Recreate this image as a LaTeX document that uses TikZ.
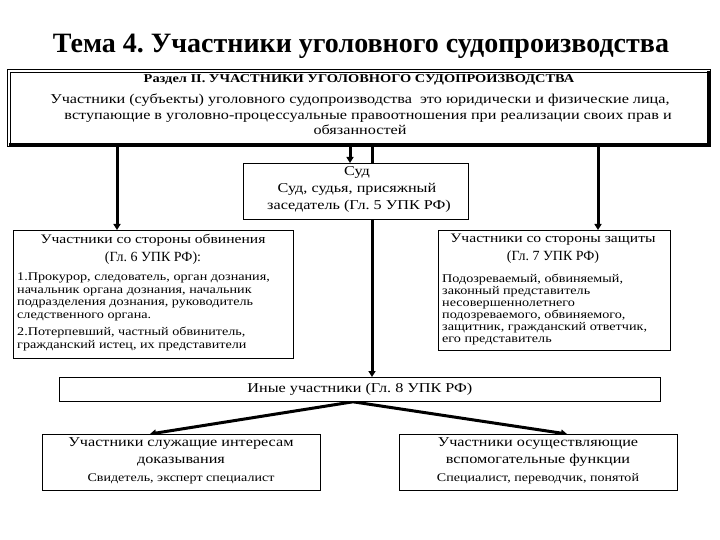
\documentclass[tikz,border=0pt]{standalone}
\usepackage{fontspec}
\setmainfont{Liberation Serif}[FakeStretch=1.2]
\newfontfamily\plainserif{Liberation Serif}
\usetikzlibrary{arrows.meta, positioning, backgrounds}
\frenchspacing

\tikzset{
  box/.style={draw, line width=0.8pt, fill=white, inner sep=0pt, anchor=north west},
  conn/.style={line width=3pt, -{Triangle[length=6pt,width=7pt]}},
  txt/.style={inner sep=0pt, align=center, font=\fontsize{13.5}{16}\selectfont},
  lst/.style={inner sep=0pt, align=left, anchor=north west, font=\fontsize{11.8}{12.4}\selectfont},
}

\begin{document}
\begin{tikzpicture}[x=1pt, y=-1pt]
\useasboundingbox (0,0) rectangle (720,540);

\node[font=\plainserif\fontsize{28}{30}\bfseries\selectfont, inner sep=0pt] (title) at (361,46) {Тема 4. Участники уголовного судопроизводства};

%% Раздел II
\node[box, minimum width=697pt, minimum height=71pt] (razdel) at (10,72) {};
\draw[line width=0.6pt] (7,69) rectangle (710,146); % outer frame
\draw[line width=3pt] (708.5,71)--(708.5,144.5)--(9,144.5); % shadow
\node[font=\fontsize{12}{13}\bfseries\selectfont, inner sep=0pt] (razdel-h) at (359,80) {Раздел II. УЧАСТНИКИ УГОЛОВНОГО СУДОПРОИЗВОДСТВА};
\node[txt, anchor=north, font=\fontsize{13.5}{15.5}\selectfont] (razdel-t) at (360,94) {Участники (субъекты) уголовного судопроизводства\ \ это юридически и физические лица,\\
\ \ \ \ вступающие в уголовно-процессуальные правоотношения при реализации своих прав и\\ обязанностей};

%% Суд
\node[box, minimum width=225pt, minimum height=56pt] (sud) at (243,163) {};
\node[txt, anchor=north, font=\fontsize{13.5}{17}\selectfont] (sud-t) at (357,166) {Суд\\ Суд, судья, присяжный\\ \ заседатель (Гл. 5 УПК РФ)};

%% обвинение
\node[box, minimum width=280pt, minimum height=128pt] (prosec) at (13,230) {};
\node[txt, anchor=north, font=\fontsize{13}{18}\selectfont] (prosec-h) at (153,234) {Участники со стороны обвинения\\ {\plainserif\fontsize{14}{18}\selectfont (Гл. 6 УПК РФ):}};
\node[lst] (prosec-l1) at (17,273) {1.Прокурор, следователь, орган дознания,\\ начальник органа дознания, начальник\\ подразделения дознания, руководитель\\ следственного органа.};
\node[lst] (prosec-l2) at (17,327) {2.Потерпевший, частный обвинитель,\\ гражданский истец, их представители};

%% защита
\node[box, minimum width=232pt, minimum height=120pt] (defence) at (438,230) {};
\node[txt, anchor=north, font=\fontsize{13}{18}\selectfont] (defence-h) at (553,234) {Участники со стороны защиты\\ {\plainserif\fontsize{14}{18}\selectfont (Гл. 7 УПК РФ)}};
\node[lst, font=\fontsize{11.8}{12}\selectfont] (defence-l) at (442,274) {Подозреваемый, обвиняемый,\\ законный представитель\\ несовершеннолетнего\\ подозреваемого, обвиняемого,\\ защитник, гражданский ответчик,\\ его представитель};

%% Иные
\node[box, minimum width=601pt, minimum height=24pt] (inye) at (59,377) {};
\node[txt] (inye-t) at (inye.center) {Иные участники (Гл. 8 УПК РФ)};

%% bottom
\node[box, minimum width=278pt, minimum height=56pt] (svid) at (42,434) {};
\node[txt, anchor=north, font=\fontsize{13.5}{17}\selectfont] (svid-t) at (181,437) {Участники служащие интересам\\ доказывания};
\node[txt, font=\fontsize{11.7}{13}\selectfont] (svid-s) at (181,479) {Свидетель, эксперт специалист};
\node[box, minimum width=278pt, minimum height=56pt] (vspom) at (399,434) {};
\node[txt, anchor=north, font=\fontsize{13.5}{17}\selectfont] (vspom-t) at (538,437) {Участники осуществляющие\\ вспомогательные функции};
\node[txt, font=\fontsize{11.7}{13}\selectfont] (vspom-s) at (538,479) {Специалист, переводчик, понятой};

\begin{scope}[on background layer]
\draw[conn] (razdel.south -| 117,0) -- (prosec.north -| 117,0);
\draw[conn] (razdel.south -| 350,0) -- (sud.north -| 350,0);
\draw[conn] (razdel.south -| 372,0) -- (inye.north -| 372,0); % behind Суд
\draw[conn] (razdel.south -| 598,0) -- (defence.north -| 598,0);
\draw[conn] (inye.south -| 353,0) -- (svid.north -| 150,0);
\draw[conn] (inye.south -| 353,0) -- (vspom.north -| 567,0);
\end{scope}
\end{tikzpicture}
\end{document}
